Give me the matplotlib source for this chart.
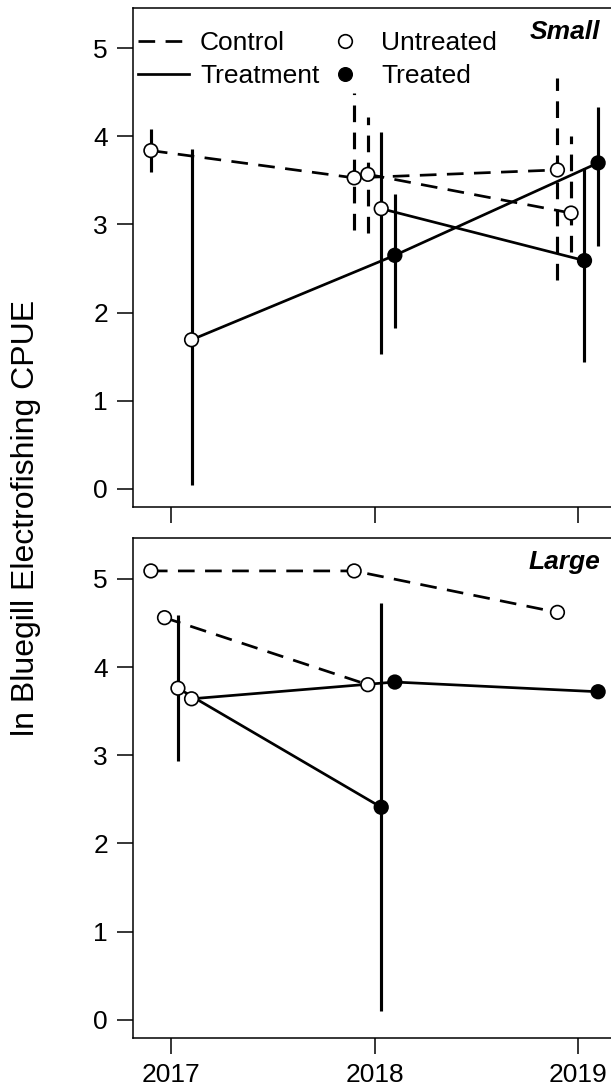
import matplotlib
matplotlib.use('Agg')
import matplotlib.pyplot as plt
from matplotlib.lines import Line2D
import numpy as np

# four lakes per panel, dodged around each sampling year
lake_offsets = [-0.1, -0.033, 0.033, 0.1]
lake_group = ['Control', 'Control', 'Treatment', 'Treatment']
years = [2017, 2018, 2019]

# Small bluegill
small_years = [[2017, 2018, 2019], [2018, 2019], [2018, 2019], [2017, 2018, 2019]]
small_mean = [[3.84, 3.53, 3.62], [3.57, 3.13], [3.18, 2.59], [1.69, 2.65, 3.70]]
small_lo = [[3.60, 2.94, 2.37], [2.90, 2.69], [1.53, 1.44], [0.04, 1.82, 2.75]]
small_hi = [[4.08, 4.49, 4.66], [4.22, 4.01], [4.05, 3.64], [3.86, 3.35, 4.33]]
small_treated = [[0, 0, 0], [0, 0], [0, 1], [0, 1, 1]]

# Large bluegill (nan = no interval shown)
nan = np.nan
large_years = [[2017, 2018, 2019], [2017, 2018], [2017, 2018], [2017, 2018, 2019]]
large_mean = [[5.09, 5.09, 4.62], [4.56, 3.80], [3.76, 2.41], [3.64, 3.83, 3.72]]
large_lo = [[nan, nan, nan], [nan, nan], [2.93, 0.10], [nan, nan, nan]]
large_hi = [[nan, nan, nan], [nan, nan], [4.59, 4.73], [nan, nan, nan]]
large_treated = [[0, 0, 0], [0, 0], [0, 1], [0, 1, 1]]

plt.rcParams['font.family'] = ['Liberation Sans', 'DejaVu Sans']
plt.rcParams['lines.scale_dashes'] = False

DASH = (0, (12, 7.5))
LW = 1.95
FS = 19

W, H = 611, 1092
fig = plt.figure(figsize=(W / 100, H / 100), dpi=100)


def px_axes(left, top, right, bottom):
    return fig.add_axes([left / W, 1 - bottom / H, (right - left) / W, (bottom - top) / H])


def draw_panel(ax, yrs, mean, lo, hi, treated, title):
    for i in range(4):
        x = np.array(yrs[i]) + lake_offsets[i]
        ls = DASH if lake_group[i] == 'Control' else '-'
        ax.vlines(x, lo[i], hi[i], colors='black', linewidth=LW + 0.3,
                  linestyles=[ls], zorder=2)
        ax.plot(x, mean[i], color='black', lw=LW, linestyle=ls, zorder=2)
        fc = ['black' if t else 'white' for t in treated[i]]
        ax.scatter(x, mean[i], s=9.8 ** 2, c=fc, edgecolors='black',
                   linewidths=1.2, zorder=3)
    ax.set_xlim(2016.812, 2019.188)
    ax.set_ylim(-0.21, 5.46)
    ax.set_yticks(range(6))
    ax.set_xticks(years)
    ax.tick_params(direction='out', length=11.5, width=1.1, labelsize=FS, pad=6.5)
    for s in ax.spines.values():
        s.set_linewidth(1.1)
    ax.text(0.967, 0.952, title, transform=ax.transAxes, ha='right', va='center',
            fontsize=FS, fontweight='bold', fontstyle='italic')


ax1 = px_axes(133, 8, 616, 507)
ax2 = px_axes(133, 538.3, 616, 1038.3)

draw_panel(ax1, small_years, small_mean, small_lo, small_hi, small_treated, 'Small')
draw_panel(ax2, large_years, large_mean, large_lo, large_hi, large_treated, 'Large')
ax1.set_xticklabels([])

handles = [
    Line2D([], [], color='black', lw=LW, linestyle=DASH),
    Line2D([], [], color='black', lw=LW),
    Line2D([], [], linestyle='none', marker='o', markersize=9.8,
           markerfacecolor='white', markeredgecolor='black', markeredgewidth=1.2),
    Line2D([], [], linestyle='none', marker='o', markersize=9.8,
           markerfacecolor='black', markeredgecolor='black'),
]
labels = ['Control', 'Treatment', 'Untreated', 'Treated']
fig.legend(handles, labels, loc='upper left', bbox_to_anchor=(138 / W, 1 - 31 / H),
           ncol=2, frameon=False, fontsize=FS, borderpad=0, borderaxespad=0,
           handlelength=1.95, handletextpad=0.4, columnspacing=0.0, labelspacing=0.35)

fig.text(26 / W, 1 - 518 / H, 'ln Bluegill Electrofishing CPUE', rotation=90,
         ha='center', va='center', fontsize=23)

fig.savefig('out.png', dpi=100)
